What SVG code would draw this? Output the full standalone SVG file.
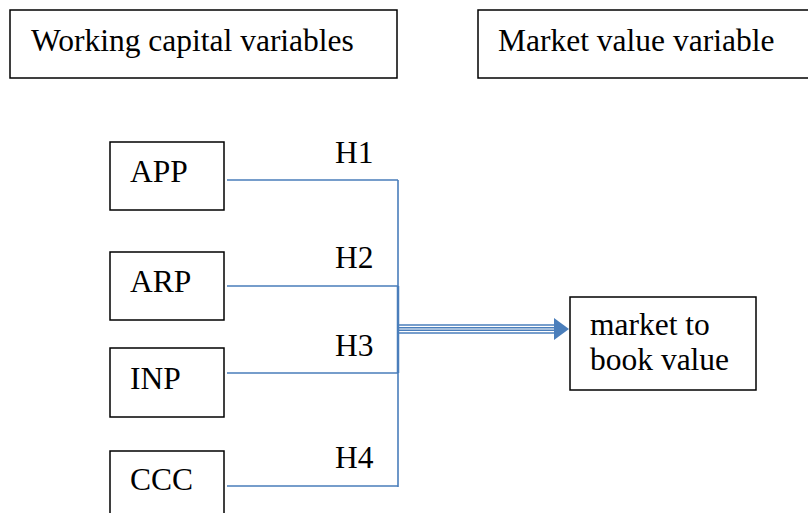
<svg xmlns="http://www.w3.org/2000/svg" width="808" height="513" viewBox="0 0 808 513">
  <style>
    .box { fill: #ffffff; stroke: #000000; stroke-width: 1.5; }
    .lbl { font-family: "Liberation Serif", "Times New Roman", serif; font-size: 31.5px; fill: #000000; }
    .wire { fill: none; stroke: #4a7ebb; stroke-width: 1.6; }
  </style>
  <rect width="808" height="513" fill="#ffffff"/>

  <!-- header boxes -->
  <g id="working-capital">
    <rect class="box" x="10" y="10" width="387" height="68"/>
    <text class="lbl" x="31" y="51">Working capital variables</text>
  </g>
  <g id="market-value">
    <rect class="box" x="478" y="10" width="340" height="68"/>
    <text class="lbl" x="498" y="51">Market value variable</text>
  </g>

  <!-- connectors: four hypothesis lines joined by a bus, then a banded arrow -->
  <g id="connectors">
    <path class="wire" d="M227,180 H398 M227,286 H398 M227,373 H398 M227,486 H398 M398,180 V487"/>
    <path d="M398,286 V373" fill="none" stroke="#4a7ebb" stroke-width="2.5"/>
    <g stroke="#4a7ebb" stroke-width="1.4">
      <line x1="399" y1="325" x2="555" y2="325"/>
      <line x1="399" y1="327.7" x2="555" y2="327.7"/>
      <line x1="399" y1="330.3" x2="555" y2="330.3"/>
      <line x1="399" y1="333" x2="555" y2="333"/>
    </g>
    <path d="M554,318 L569,329 L554,340 Z" fill="#4a7ebb"/>
    <text class="lbl" x="335" y="163">H1</text>
    <text class="lbl" x="335" y="268">H2</text>
    <text class="lbl" x="335" y="356">H3</text>
    <text class="lbl" x="335" y="468">H4</text>
  </g>

  <!-- predictor nodes -->
  <g id="app">
    <rect class="box" x="110" y="142" width="114" height="68"/>
    <text class="lbl" x="130" y="182">APP</text>
  </g>
  <g id="arp">
    <rect class="box" x="110" y="252" width="114" height="68"/>
    <text class="lbl" x="130" y="292">ARP</text>
  </g>
  <g id="inp">
    <rect class="box" x="110" y="348" width="114" height="69"/>
    <text class="lbl" x="130" y="389">INP</text>
  </g>
  <g id="ccc">
    <rect class="box" x="110" y="451" width="114" height="80"/>
    <text class="lbl" x="130" y="490">CCC</text>
  </g>

  <!-- outcome node -->
  <g id="market-to-book">
    <rect class="box" x="570" y="297" width="186" height="93"/>
    <text class="lbl" x="590" y="335">market to</text>
    <text class="lbl" x="590" y="370">book value</text>
  </g>
</svg>
